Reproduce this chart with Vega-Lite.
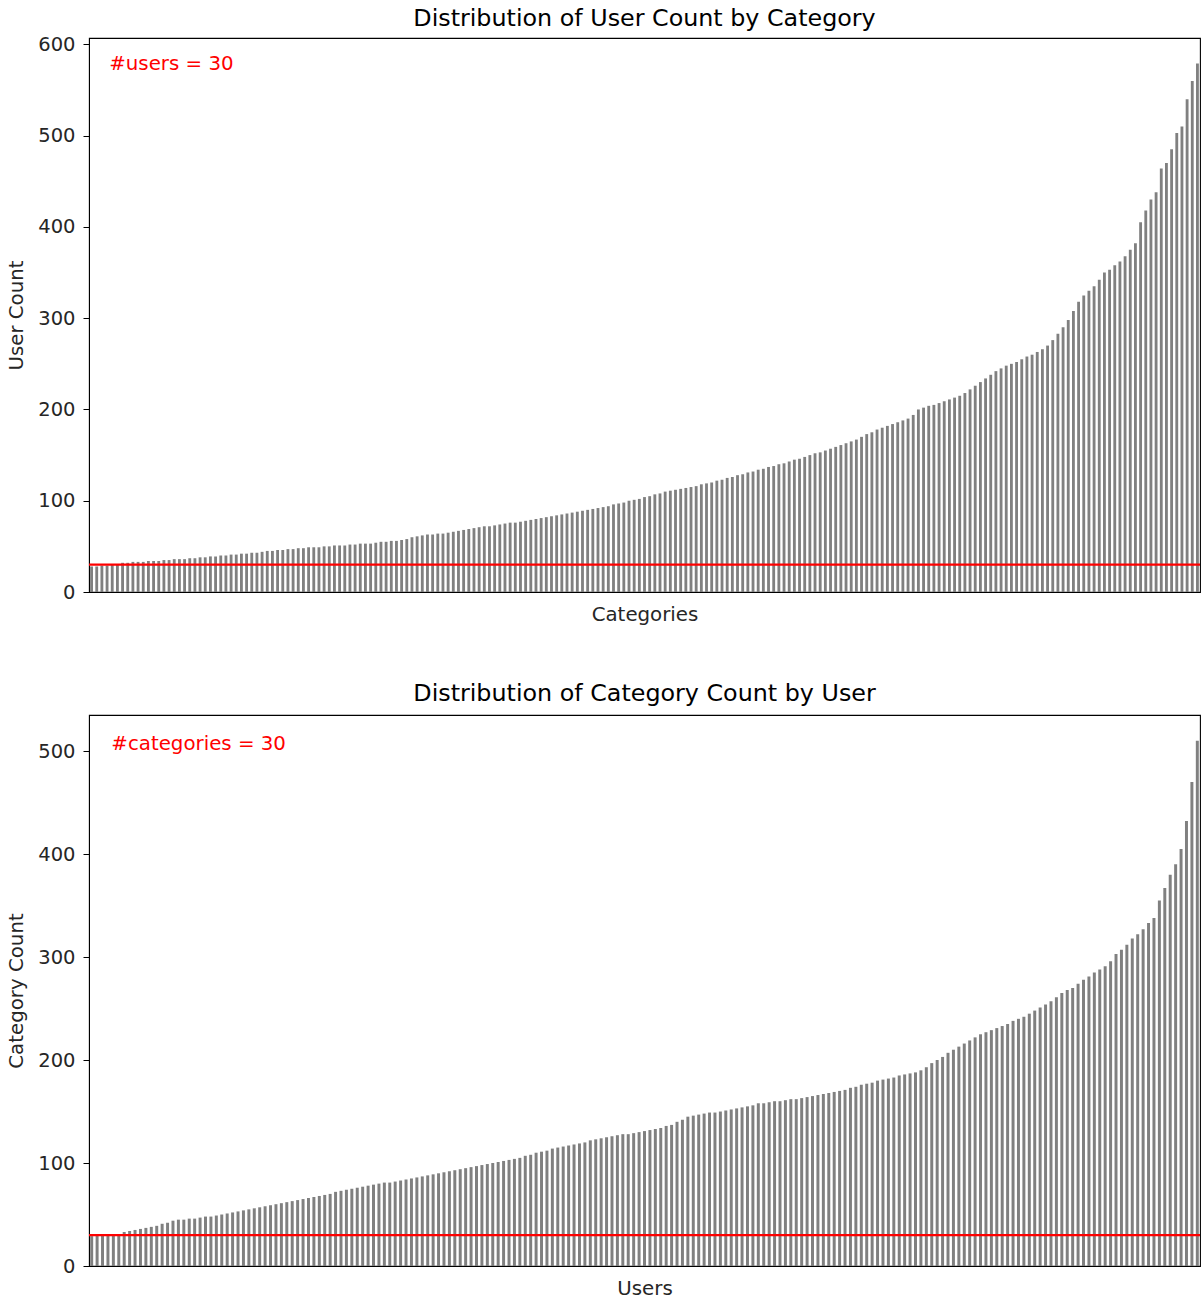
{
 "$schema": "https://vega.github.io/schema/vega-lite/v6.json",
 "background": "white",
 "padding": {"left": 6, "top": 6, "right": 2, "bottom": 2},
 "spacing": 56,
 "config": {
  "font": "DejaVu Sans",
  "view": {"stroke": "black", "strokeWidth": 1.1},
  "axis": {"grid": false, "domainColor": "black", "tickColor": "black", "labelColor": "#262626", "titleColor": "#262626", "labelFontSize": 19.5, "titleFontSize": 19.8, "titleFontWeight": "normal", "labelFont": "DejaVu Sans", "titleFont": "DejaVu Sans"},
  "title": {"fontSize": 23.8, "fontWeight": "normal", "font": "DejaVu Sans", "color": "black", "anchor": "middle"}
 },
 "datasets": {
  "top": [
   {"i":0,"v":28},{"i":1,"v":28},{"i":2,"v":29},{"i":3,"v":29},{"i":4,"v":30},{"i":5,"v":30},
   {"i":6,"v":32},{"i":7,"v":32},{"i":8,"v":33},{"i":9,"v":33},{"i":10,"v":33},{"i":11,"v":34},{"i":12,"v":34},{"i":13,"v":34},
   {"i":14,"v":35},{"i":15,"v":35},{"i":16,"v":36},{"i":17,"v":36},{"i":18,"v":36},{"i":19,"v":37},{"i":20,"v":37},
   {"i":21,"v":38},{"i":22,"v":38},{"i":23,"v":39},{"i":24,"v":39},{"i":25,"v":40},{"i":26,"v":40},{"i":27,"v":41},{"i":28,"v":41},{"i":29,"v":42},{"i":30,"v":42},
   {"i":31,"v":43},{"i":32,"v":43},{"i":33,"v":44},{"i":34,"v":45},{"i":35,"v":45},{"i":36,"v":46},{"i":37,"v":46},{"i":38,"v":47},{"i":39,"v":47},
   {"i":40,"v":48},{"i":41,"v":48},{"i":42,"v":49},{"i":43,"v":49},{"i":44,"v":49},{"i":45,"v":50},{"i":46,"v":50},{"i":47,"v":51},{"i":48,"v":51},{"i":49,"v":51},
   {"i":50,"v":52},{"i":51,"v":52},{"i":52,"v":53},{"i":53,"v":53},{"i":54,"v":53},{"i":55,"v":54},{"i":56,"v":55},{"i":57,"v":55},{"i":58,"v":56},{"i":59,"v":56},
   {"i":60,"v":57},{"i":61,"v":58},{"i":62,"v":60},{"i":63,"v":61},
   {"i":64,"v":62},{"i":65,"v":63},{"i":66,"v":63},{"i":67,"v":64},{"i":68,"v":64},{"i":69,"v":65},
   {"i":70,"v":66},{"i":71,"v":67},{"i":72,"v":68},{"i":73,"v":69},{"i":74,"v":70},{"i":75,"v":71},
   {"i":76,"v":72},{"i":77,"v":72},{"i":78,"v":73},{"i":79,"v":74},{"i":80,"v":75},{"i":81,"v":76},{"i":82,"v":76},{"i":83,"v":77},
   {"i":84,"v":78},{"i":85,"v":79},{"i":86,"v":80},{"i":87,"v":81},{"i":88,"v":82},{"i":89,"v":83},{"i":90,"v":84},
   {"i":91,"v":85},{"i":92,"v":86},{"i":93,"v":87},{"i":94,"v":88},{"i":95,"v":89},{"i":96,"v":90},{"i":97,"v":91},{"i":98,"v":92},
   {"i":99,"v":93},{"i":100,"v":94},{"i":101,"v":96},{"i":102,"v":97},{"i":103,"v":98},{"i":104,"v":100},{"i":105,"v":101},
   {"i":106,"v":102},{"i":107,"v":104},{"i":108,"v":105},{"i":109,"v":107},{"i":110,"v":108},{"i":111,"v":110},{"i":112,"v":111},{"i":113,"v":112},
   {"i":114,"v":113},{"i":115,"v":114},{"i":116,"v":115},{"i":117,"v":116},
   {"i":118,"v":118},{"i":119,"v":119},{"i":120,"v":120},{"i":121,"v":122},{"i":122,"v":123},{"i":123,"v":125},{"i":124,"v":126},
   {"i":125,"v":128},{"i":126,"v":129},{"i":127,"v":131},{"i":128,"v":132},{"i":129,"v":134},{"i":130,"v":135},{"i":131,"v":137},{"i":132,"v":138},
   {"i":133,"v":140},{"i":134,"v":141},{"i":135,"v":143},{"i":136,"v":145},{"i":137,"v":146},{"i":138,"v":148},
   {"i":139,"v":150},{"i":140,"v":152},{"i":141,"v":153},{"i":142,"v":155},{"i":143,"v":157},{"i":144,"v":159},{"i":145,"v":161},{"i":146,"v":163},
   {"i":147,"v":165},{"i":148,"v":167},{"i":149,"v":170},{"i":150,"v":173},{"i":151,"v":175},
   {"i":152,"v":178},{"i":153,"v":180},{"i":154,"v":182},{"i":155,"v":184},{"i":156,"v":186},{"i":157,"v":188},
   {"i":158,"v":190},{"i":159,"v":194},
   {"i":160,"v":200},{"i":161,"v":202},{"i":162,"v":204},{"i":163,"v":205},{"i":164,"v":207},{"i":165,"v":209},{"i":166,"v":211},{"i":167,"v":213},
   {"i":168,"v":215},{"i":169,"v":218},{"i":170,"v":222},{"i":171,"v":226},{"i":172,"v":230},{"i":173,"v":234},{"i":174,"v":238},{"i":175,"v":242},
   {"i":176,"v":245},{"i":177,"v":248},{"i":178,"v":250},{"i":179,"v":252},{"i":180,"v":255},{"i":181,"v":258},{"i":182,"v":260},{"i":183,"v":263},{"i":184,"v":266},{"i":185,"v":270},{"i":186,"v":276},{"i":187,"v":283},
   {"i":188,"v":290},{"i":189,"v":298},{"i":190,"v":308},{"i":191,"v":318},{"i":192,"v":325},{"i":193,"v":330},{"i":194,"v":335},{"i":195,"v":342},{"i":196,"v":350},{"i":197,"v":353},{"i":198,"v":358},{"i":199,"v":362},{"i":200,"v":368},{"i":201,"v":375},{"i":202,"v":382},{"i":203,"v":405},{"i":204,"v":418},{"i":205,"v":430},{"i":206,"v":438},{"i":207,"v":464},{"i":208,"v":470},{"i":209,"v":485},{"i":210,"v":503},{"i":211,"v":510},{"i":212,"v":540},{"i":213,"v":560},{"i":214,"v":579}
  ],
  "bottom": [
   {"i":0,"v":29},{"i":1,"v":30},{"i":2,"v":30},{"i":3,"v":30},{"i":4,"v":31},{"i":5,"v":31},
   {"i":6,"v":33},{"i":7,"v":34},{"i":8,"v":35},{"i":9,"v":36},{"i":10,"v":37},
   {"i":11,"v":38},{"i":12,"v":39},{"i":13,"v":41},{"i":14,"v":42},{"i":15,"v":44},
   {"i":16,"v":45},{"i":17,"v":45},{"i":18,"v":46},{"i":19,"v":46},{"i":20,"v":47},{"i":21,"v":48},{"i":22,"v":48},{"i":23,"v":49},
   {"i":24,"v":50},{"i":25,"v":51},{"i":26,"v":52},{"i":27,"v":53},{"i":28,"v":54},{"i":29,"v":55},{"i":30,"v":56},
   {"i":31,"v":57},{"i":32,"v":58},{"i":33,"v":59},{"i":34,"v":60},{"i":35,"v":61},{"i":36,"v":62},
   {"i":37,"v":63},{"i":38,"v":64},{"i":39,"v":65},{"i":40,"v":66},{"i":41,"v":67},
   {"i":42,"v":68},{"i":43,"v":69},{"i":44,"v":70},{"i":45,"v":72},{"i":46,"v":73},{"i":47,"v":74},
   {"i":48,"v":75},{"i":49,"v":76},{"i":50,"v":77},{"i":51,"v":78},{"i":52,"v":79},{"i":53,"v":80},{"i":54,"v":81},{"i":55,"v":81},{"i":56,"v":82},
   {"i":57,"v":83},{"i":58,"v":84},{"i":59,"v":85},{"i":60,"v":86},{"i":61,"v":87},{"i":62,"v":88},{"i":63,"v":89},
   {"i":64,"v":90},{"i":65,"v":91},{"i":66,"v":92},{"i":67,"v":93},{"i":68,"v":94},{"i":69,"v":95},{"i":70,"v":96},{"i":71,"v":97},
   {"i":72,"v":98},{"i":73,"v":99},{"i":74,"v":100},{"i":75,"v":101},{"i":76,"v":102},{"i":77,"v":103},{"i":78,"v":104},
   {"i":79,"v":105},{"i":80,"v":107},{"i":81,"v":108},{"i":82,"v":110},{"i":83,"v":111},{"i":84,"v":112},{"i":85,"v":114},
   {"i":86,"v":115},{"i":87,"v":116},{"i":88,"v":117},{"i":89,"v":118},{"i":90,"v":119},{"i":91,"v":120},{"i":92,"v":122},{"i":93,"v":123},
   {"i":94,"v":124},{"i":95,"v":125},{"i":96,"v":126},{"i":97,"v":127},{"i":98,"v":128},{"i":99,"v":128},{"i":100,"v":129},
   {"i":101,"v":130},{"i":102,"v":131},{"i":103,"v":132},{"i":104,"v":133},{"i":105,"v":134},{"i":106,"v":136},
   {"i":107,"v":137},{"i":108,"v":140},{"i":109,"v":142},
   {"i":110,"v":145},{"i":111,"v":146},{"i":112,"v":147},{"i":113,"v":148},{"i":114,"v":149},{"i":115,"v":149},
   {"i":116,"v":150},{"i":117,"v":151},{"i":118,"v":152},{"i":119,"v":153},{"i":120,"v":154},{"i":121,"v":155},{"i":122,"v":156},
   {"i":123,"v":158},{"i":124,"v":158},{"i":125,"v":159},{"i":126,"v":160},{"i":127,"v":160},{"i":128,"v":161},{"i":129,"v":162},{"i":130,"v":162},
   {"i":131,"v":163},{"i":132,"v":164},{"i":133,"v":165},{"i":134,"v":166},{"i":135,"v":167},{"i":136,"v":168},{"i":137,"v":169},
   {"i":138,"v":170},{"i":139,"v":171},{"i":140,"v":173},{"i":141,"v":174},{"i":142,"v":176},{"i":143,"v":177},{"i":144,"v":178},
   {"i":145,"v":180},{"i":146,"v":181},{"i":147,"v":182},{"i":148,"v":183},{"i":149,"v":185},{"i":150,"v":186},{"i":151,"v":187},{"i":152,"v":188},
   {"i":153,"v":190},{"i":154,"v":193},{"i":155,"v":197},
   {"i":156,"v":200},{"i":157,"v":203},{"i":158,"v":207},{"i":159,"v":210},{"i":160,"v":213},{"i":161,"v":216},{"i":162,"v":219},{"i":163,"v":222},
   {"i":164,"v":225},{"i":165,"v":227},{"i":166,"v":229},{"i":167,"v":231},{"i":168,"v":233},{"i":169,"v":235},{"i":170,"v":238},
   {"i":171,"v":240},{"i":172,"v":242},{"i":173,"v":245},{"i":174,"v":248},{"i":175,"v":251},{"i":176,"v":254},{"i":177,"v":257},{"i":178,"v":261},
   {"i":179,"v":265},{"i":180,"v":268},{"i":181,"v":270},{"i":182,"v":274},{"i":183,"v":278},{"i":184,"v":281},{"i":185,"v":285},{"i":186,"v":288},{"i":187,"v":291},{"i":188,"v":296},{"i":189,"v":303},{"i":190,"v":307},{"i":191,"v":312},{"i":192,"v":318},{"i":193,"v":322},{"i":194,"v":327},{"i":195,"v":333},{"i":196,"v":338},{"i":197,"v":355},{"i":198,"v":367},{"i":199,"v":380},{"i":200,"v":390},{"i":201,"v":405},{"i":202,"v":432},{"i":203,"v":470},{"i":204,"v":510}
  ]
 },
 "vconcat": [
  {
   "title": {"text": "Distribution of User Count by Category", "offset": 4},
   "width": 1111,
   "height": 554,
   "layer": [
    {
     "data": {"name": "top"},
     "mark": {"type": "bar", "color": "#808080"},
     "encoding": {
      "x": {"field": "i", "type": "ordinal", "scale": {"paddingInner": 0.45, "paddingOuter": 0.22}, "axis": {"title": "Categories", "labels": false, "ticks": false, "domain": false, "titlePadding": 12}},
      "y": {"field": "v", "type": "quantitative", "scale": {"domain": [0, 607], "nice": false}, "axis": {"title": "User Count", "values": [0, 100, 200, 300, 400, 500, 600], "tickSize": 6, "labelPadding": 8, "titlePadding": 11}}
     }
    },
    {
     "data": {"values": [{"threshold": 30}]},
     "mark": {"type": "rule", "color": "#ff0000", "strokeWidth": 2.2},
     "encoding": {"y": {"field": "threshold", "type": "quantitative"}}
    },
    {
     "data": {"values": [{"label": "#users = 30", "i": 4, "ypos": 578}]},
     "mark": {"type": "text", "color": "#ff0000", "align": "left", "baseline": "middle", "fontSize": 19.8, "dx": -3},
     "encoding": {"x": {"field": "i", "type": "ordinal"}, "y": {"field": "ypos", "type": "quantitative"}, "text": {"field": "label"}}
    }
   ]
  },
  {
   "title": {"text": "Distribution of Category Count by User", "offset": 9},
   "width": 1111,
   "height": 551,
   "layer": [
    {
     "data": {"name": "bottom"},
     "mark": {"type": "bar", "color": "#808080"},
     "encoding": {
      "x": {"field": "i", "type": "ordinal", "scale": {"paddingInner": 0.45, "paddingOuter": 0.22}, "axis": {"title": "Users", "labels": false, "ticks": false, "domain": false, "titlePadding": 12}},
      "y": {"field": "v", "type": "quantitative", "scale": {"domain": [0, 535], "nice": false}, "axis": {"title": "Category Count", "values": [0, 100, 200, 300, 400, 500], "tickSize": 6, "labelPadding": 8, "titlePadding": 11}}
     }
    },
    {
     "data": {"values": [{"threshold": 30}]},
     "mark": {"type": "rule", "color": "#ff0000", "strokeWidth": 2.2},
     "encoding": {"y": {"field": "threshold", "type": "quantitative"}}
    },
    {
     "data": {"values": [{"label": "#categories = 30", "i": 4, "ypos": 507}]},
     "mark": {"type": "text", "color": "#ff0000", "align": "left", "baseline": "middle", "fontSize": 19.8, "dx": -2},
     "encoding": {"x": {"field": "i", "type": "ordinal"}, "y": {"field": "ypos", "type": "quantitative"}, "text": {"field": "label"}}
    }
   ]
  }
 ]
}
